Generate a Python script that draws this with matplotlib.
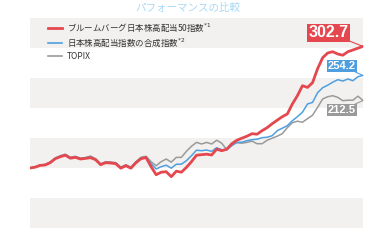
import numpy as np
import matplotlib
matplotlib.use('Agg')
import matplotlib.pyplot as plt

plt.rcParams['font.family'] = ['Noto Sans CJK JP', 'DejaVu Sans']

# index levels (start = 100)
bloomberg = [100, 101.3, 104.3, 105, 108.8, 115.5, 118.8, 121.3, 116.3, 117.7,
             115, 116, 117.2, 113.8, 105.5, 108.8, 108.3, 107.2, 99.7, 103.8,
             99.7, 108.8, 115.5, 117.5, 102.2, 88.8, 93, 93.8, 85.5, 94.7,
             93, 101, 110.5, 121.3, 122.2, 123, 121.7, 131.3, 128.8, 131.3,
             140.5, 146.3, 149.7, 153, 157.2, 156.3, 162.2, 167.2, 173.8, 179.7,
             185.5, 190, 206.7, 220.5, 237.2, 234.3, 242.2, 265.5, 283.8, 291.7,
             293.8, 290, 288, 293.8, 296.7, 299.7, 302.7]
composite = [100, 101.5, 104.5, 105.5, 109.5, 116, 119.5, 122, 117, 118.5,
             115.5, 116.8, 118, 114.5, 106, 109.5, 109, 108, 100.5, 104.5,
             100.5, 109.5, 116.5, 118.5, 107.2, 98.3, 102.2, 104.7, 99.7, 106.3,
             106.3, 112.2, 120.5, 129.7, 128.8, 130, 127.7, 133.8, 130.5, 130.5,
             137.2, 142.7, 143, 145.5, 147.2, 148, 150.5, 151.3, 153.8, 162.2,
             166.3, 170.5, 178.8, 185.5, 193, 206.7, 209.3, 225.5, 233.8, 238,
             243, 247.2, 245, 248.3, 245.5, 252.2, 254.2]
topix = [100, 102, 105, 106, 110, 116.5, 120.5, 123, 118, 119.5,
         116.5, 117.5, 120, 115.5, 107, 110.5, 110, 109, 101.5, 105.5,
         101.5, 110.5, 118, 119.5, 110.5, 103.8, 110.5, 115, 109.7, 117.7,
         117.7, 127.8, 136.2, 142.7, 140, 142.7, 140, 146.3, 141.3, 130.5,
         138.8, 142.2, 141.3, 142.7, 144.7, 140.5, 140.5, 146.3, 149.7, 153,
         157.2, 167.2, 175.5, 178, 176.3, 182.2, 188, 201, 215, 218.8,
         220.5, 217.7, 212.2, 213, 213, 219.7, 212.5]

labels = ['ブルームバーグ日本株高配当50指数$^{*1}$',
          '日本株高配当指数の合成指数$^{*2}$',
          'TOPIX']
colors = ['#e5474e', '#4f9fe0', '#9a9a9a']
bands = [(0, 50), (100, 150), (200, 250), (300, 350)]

x = np.arange(len(bloomberg))

fig = plt.figure(figsize=(3.7, 2.42), dpi=100)
ax = fig.add_axes([30 / 370, 1 - 228 / 242, 333 / 370, 210 / 242])

for lo, hi in bands:
    ax.axhspan(lo, hi, color='#f2f1f0', lw=0, zorder=0)

ax.plot(x, topix, color=colors[2], lw=1.1, zorder=2, solid_joinstyle='round')
ax.plot(x, composite, color=colors[1], lw=1.1, zorder=3, solid_joinstyle='round')
ax.plot(x, bloomberg, color=colors[0], lw=2.0, zorder=4, solid_joinstyle='round')

ax.set_xlim(0, len(x) - 1)
ax.set_ylim(0, 350)
ax.axis('off')

# legend
handles = [plt.Line2D([], [], color=colors[0], lw=2.0),
           plt.Line2D([], [], color=colors[1], lw=1.2),
           plt.Line2D([], [], color=colors[2], lw=1.2)]
ax.legend(handles, labels, loc='upper left', bbox_to_anchor=(0.054, 0.985),
          frameon=False, fontsize=6.1, borderpad=0, borderaxespad=0,
          handlelength=1.65, handletextpad=0.6, labelspacing=0.34,
          labelcolor='#333333')

# end value tags
tags = [(bloomberg[-1], colors[0], (59.1, 325.5), 11.5),
        (composite[-1], colors[1], (61.8, 270), 8),
        (topix[-1], colors[2], (61.8, 196.5), 8)]
for val, c, pos, fs in tags:
    ax.annotate(f'{val:.1f}', xy=(x[-1], val), xytext=pos,
                ha='center', va='center', color='white', fontsize=fs,
                fontweight='bold', family='Liberation Sans', zorder=6,
                bbox=dict(boxstyle='square,pad=0.1', fc=c, ec='none'),
                arrowprops=dict(arrowstyle='-', color=c, lw=0.8,
                                shrinkA=0, shrinkB=0), annotation_clip=False)

fig.text(188 / 370, 1 - 8 / 242, 'パフォーマンスの比較', ha='center', va='center',
         color='#aad9f4', fontsize=7.6)

fig.savefig('out.png', dpi=100)
